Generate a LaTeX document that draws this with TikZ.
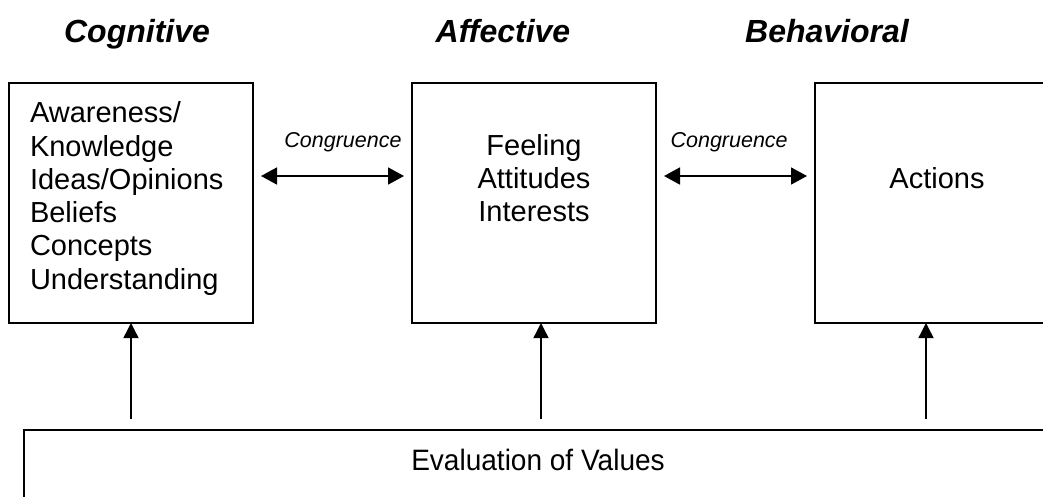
\documentclass[tikz,border=0pt]{standalone}
\usepackage{fontspec}
\setmainfont{Liberation Sans}
\newfontfamily\narrowfont[FakeStretch=0.95]{Liberation Sans}
\usetikzlibrary{arrows.meta,positioning}

\newcommand{\boxtext}[5]{\parbox[c][#1][t]{#2}{#4\rule{0pt}{#3}#5}}

\begin{document}
\begin{tikzpicture}[x=1pt,y=-1pt]
    \edef\boxwidth{244pt}
    \edef\boxheight{240pt}
    \tikzstyle{attbox}=[draw, line width=1.8pt, inner sep=0pt, outer sep=0pt,
                        anchor=north west, font=\fontsize{29pt}{33.3pt}\selectfont]
    \tikzstyle{attitle}=[anchor=base, font=\fontsize{32pt}{36pt}\selectfont\bfseries\itshape]
    \tikzstyle{congr}=[anchor=base, font=\itshape\fontsize{21.5pt}{24pt}\selectfont]
    \tikzstyle{linkarrow}=[{Triangle[length=16pt,width=17pt]}-{Triangle[length=16pt,width=17pt]},
                           line width=1.8pt, shorten <=8pt, shorten >=8pt]
    \tikzstyle{valarrow}=[-{Triangle[length=15pt,width=15pt]}, line width=1.4pt, shorten <=11pt]

    \useasboundingbox (0,0) rectangle (1043,496);
    \clip (0,0) rectangle (1043,496);

    % Draw the three boxes
    \node [attbox] (cog) at (9,83)
        {\boxtext{\boxheight}{\boxwidth}{39.7pt}{\leftskip=21pt}{Awareness/\\Knowledge\\Ideas/Opinions\\Beliefs\\Concepts\\Understanding}};
    \node [attbox,right=159pt of cog] (aff)
        {\boxtext{\boxheight}{\boxwidth}{72pt}{\centering}{Feeling\\Attitudes\\Interests}};
    \node [attbox,right=159pt of aff] (beh)
        {\boxtext{\boxheight}{\boxwidth}{105pt}{\centering}{Actions}};

    % Titles above the boxes
    \node [attitle] (tcog) at ([xshift=6pt,yshift=41pt]cog.north) {Cognitive};
    \node [attitle] (taff) at ([xshift=-31pt,yshift=41pt]aff.north) {Affective};
    \node [attitle] (tbeh) at ([xshift=-110pt,yshift=41pt]beh.north) {Behavioral};

    % Draw values box below
    \node [attbox,font=\narrowfont\fontsize{29.5pt}{33pt}\selectfont] (vals) at (24,430)
        {\boxtext{120pt}{1028pt}{40pt}{\centering}{Evaluation of Values}};

    % Congruence arrows
    \draw [linkarrow] ([yshift=27pt]cog.east) --
        node [congr,pos=0.566,yshift=29pt] (cong1) {Congruence} ([yshift=27pt]aff.west);
    \draw [linkarrow] ([yshift=27pt]aff.east) --
        node [congr,pos=0.46,yshift=29pt] (cong2) {Congruence} ([yshift=27pt]beh.west);

    % Arrows from values up to the boxes
    \draw [valarrow] (vals.north -| cog.south) -- (cog.south);
    \draw [valarrow] ([xshift=7pt]aff.south |- vals.north) -- ([xshift=7pt]aff.south);
    \draw [valarrow] ([xshift=-11pt]beh.south |- vals.north) -- ([xshift=-11pt]beh.south);
\end{tikzpicture}
\end{document}
